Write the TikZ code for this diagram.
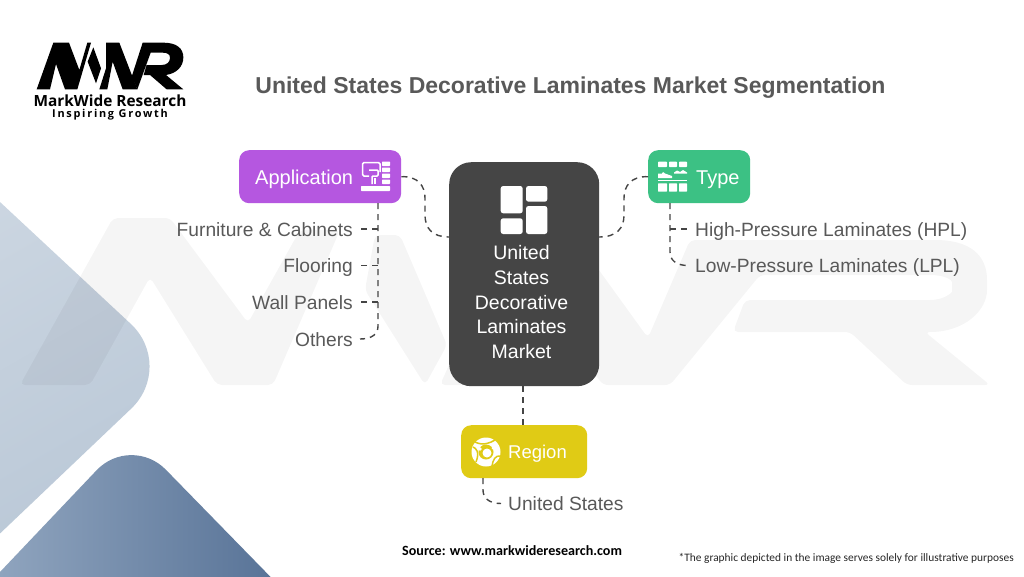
\documentclass[tikz,border=0pt]{standalone}
\usepackage{fontspec}
\setmainfont{Liberation Sans}
\newfontfamily\logofont{Open Sans}
\newfontfamily\notefont{Carlito}
\definecolor{dk}{HTML}{454545}
\definecolor{itemc}{HTML}{595959}
\definecolor{purp}{HTML}{B557E0}
\definecolor{grn}{HTML}{3CC184}
\definecolor{yel}{HTML}{E0CB15}
\definecolor{paleA}{HTML}{D2DBE5}
\definecolor{paleB}{HTML}{B5C4D4}
\definecolor{blueA}{HTML}{8FA4BE}
\definecolor{blueB}{HTML}{587397}
\newcommand{\px}[1]{\fontsize{#1}{#1}\selectfont}
\tikzset{
  catbox/.style={draw=none,rounded corners=10pt,minimum height=53pt,inner sep=0pt,anchor=north west},
  catlabel/.style={text=white,inner sep=0pt,font=\px{20},anchor=base west},
  itemleft/.style={text=itemc,inner sep=0pt,anchor=base east,font=\px{19.2}},
  itemright/.style={text=itemc,inner sep=0pt,anchor=base west,font=\px{19.2}},
  centerline/.style={text=white,inner sep=0pt,anchor=base,font=\px{19.5}},
  conn/.style={draw=dk,line width=1.4pt,dash pattern=on 6pt off 5pt},
  brick/.style={fill=white,rounded corners=0.6pt},
  wmark/.style={fill=black,fill opacity=0.04,rounded corners=5pt},
}
\begin{document}
\begin{tikzpicture}[x=1pt,y=-1pt]
\useasboundingbox (0,0) rectangle (1024,576);
\clip (0,0) rectangle (1024,576);
\fill[white] (0,0) rectangle (1024,576);
% background shapes
\shade[rounded corners=62pt,top color=paleA,bottom color=paleB,shading angle=30]
  (-175,39) -- (176,366) -- (-175,700) -- cycle;
\begin{scope}
\clip[rounded corners=50pt] (-150,730) -- (131,434) -- (420,730) -- cycle;
\shade[left color=blueA,right color=blueB] (0,440) rectangle (275,576);
\end{scope}
% watermark
\fill[wmark] (20,385) -- (113,218) -- (170,218) -- (248,323) -- (300,230) -- (340,230) -- (273,385) -- (217,385) -- (150,277) -- (90,385) -- cycle;
\fill[wmark] (375,235) -- (400,235) -- (447,345) -- (425,385) -- (365,290) -- cycle;
\fill[wmark] (440,385) -- (510,230) -- (570,230) -- (648,338) -- (690,240) -- (930,240) .. controls (970,240) and (987,255) .. (987,285) .. controls (987,310) and (965,332) .. (925,332) -- (990,385) -- (907,385) -- (850,332) -- (733,332) -- (745,300) -- (925,300) .. controls (945,300) and (952,292) .. (952,287) .. controls (952,280) and (945,275) .. (925,275) -- (760,275) -- (670,385) -- (603,385) -- (540,300) -- (505,385) -- cycle;
% logo
\begin{scope}[shift={(0,20)},x=0.33333pt,y=-0.33333pt,fill=black]
  \fill (110,208) -- (160,68) -- (207,68) -- (238,150) -- (262,68) -- (273,68) -- (232,208) -- (195,208) -- (168,132) -- (150,208) -- cycle;
  \fill (280,82) -- (303,145) -- (288,190) -- (263,125) -- cycle;
  \fill (298,208) -- (318,145) -- (318,68) -- (358,68) -- (412,208) -- (368,208) -- (338,125) -- (322,208) -- cycle;
  \fill (395,170) -- (428,68) -- (490,68) .. controls (530,68) and (550,85) .. (550,112) .. controls (550,140) and (530,160) .. (498,165) -- (550,208) -- (500,208) -- (450,165) -- (431,165) -- (440,135) -- (485,135) .. controls (502,135) and (510,125) .. (510,113) .. controls (510,103) and (502,98) .. (488,98) -- (452,98) -- (412,208) -- cycle;
\end{scope}
\node[inner sep=0pt,text=black] (brand) at (110,101) {\logofont\bfseries\px{15.4}MarkWide Research};
\node[inner sep=0pt,text=black] (tagline) at (110,114.5) {\logofont\bfseries\addfontfeature{LetterSpace=16}\px{10.9}Inspiring Growth};
% title
\node[inner sep=0pt,text=itemc,anchor=base] (title) at (570.5,93.5) {\bfseries\px{23}United States Decorative Laminates Market Segmentation};
% boxes
\node[catbox,fill=purp,minimum width=162pt] (appbox) at (239,150) {};
\node[catbox,fill=grn,minimum width=102pt] (typebox) at (648,150) {};
\node[catbox,fill=yel,minimum width=126pt] (regbox) at (461,425) {};
\node[draw=none,fill=dk,rounded corners=22pt,minimum width=150pt,minimum height=224pt,inner sep=0pt,anchor=north west] (hub) at (449,162) {};
% hub text
\node[centerline] (h1) at (521.5,259.5) {United};
\node[centerline] (h2) at (521.5,284) {States};
\node[centerline] (h3) at (521.5,309) {Decorative};
\node[centerline] (h4) at (521.5,333.3) {Laminates};
\node[centerline] (h5) at (521.5,358) {Market};
% hub icon
\fill[brick,rounded corners=2.5pt] (500.7,186) rectangle (522.7,213.3);
\fill[brick,rounded corners=2.5pt] (526,186) rectangle (547.3,201.7);
\fill[brick,rounded corners=2.5pt] (500.7,218.3) rectangle (522.7,234);
\fill[brick,rounded corners=2.5pt] (526,206) rectangle (547.3,234);
% labels
\node[catlabel] (applabel) at (255,184) {Application};
\node[catlabel] (typelabel) at (696,184) {Type};
\node[catlabel,font=\px{18.5}] (reglabel) at (508,458) {Region};
% application icon
\draw[white,line width=1.5pt,rounded corners=1.5pt] (380,172) -- (380,162.5) -- (362.5,162.5) -- (362.5,176) -- (369,176);
\draw[white,line width=1.5pt,rounded corners=1pt] (369,170) -- (378,170) -- (378,176) -- (372,176) -- (372,184);
\draw[white,line width=2.8pt] (375,178) -- (375,183.5);
\fill[brick] (382,161.5) rectangle (390,166);
\fill[brick] (382,167.5) rectangle (390,172);
\fill[brick] (382,173.5) rectangle (390,178);
\fill[brick] (382,179.5) rectangle (390,184);
\fill[brick] (361,186) rectangle (390,191);
% type icon
\foreach \a/\b in {658/667,669/677,679/687}{\fill[brick] (\a,161.7) rectangle (\b,167);\fill[brick] (\a,183.3) rectangle (\b,191.7);}
\fill[white] (658,178) -- (658,173.5) -- (662,173.5) -- (663,172) -- (665,173.5) -- (672,176) -- (672,178) -- cycle;
\fill[white] (674,172.5) -- (677,170.5) -- (680,172) -- (683,170) -- (687,172.5) -- (687,173.5) -- (674,173.5) -- cycle;
\fill[white] (658,179.5) rectangle (687,181.3);
% region icon
\fill[white] (486,452) circle (14.5pt);
\draw[yel,line width=1.5pt] (475,442) .. controls (483,446) and (490,443) .. (495,440);
\draw[yel,line width=1.5pt] (476,462) .. controls (480,452) and (476,448) .. (473,447);
\draw[yel,line width=1.5pt] (501,456) .. controls (495,455) and (493,460) .. (492,466);
\fill[yel] (486,452) circle (7.5pt);
\fill[white] (487,453) circle (4.5pt);
\fill[white] (480,449) circle (1.8pt);
\fill[white] (493,448) circle (1.5pt);
% items
\node[itemleft] (i1) at (353,236) {Furniture \& Cabinets};
\node[itemleft] (i2) at (353,272.5) {Flooring};
\node[itemleft] (i3) at (353,309) {Wall Panels};
\node[itemleft] (i4) at (353,346) {Others};
\node[itemright] (t1) at (695,236) {High-Pressure Laminates (HPL)};
\node[itemright] (t2) at (695,272.5) {Low-Pressure Laminates (LPL)};
\node[itemright] (r1) at (508,510.5) {United States};
% notes
\node[inner sep=0pt,text=black,anchor=west] (source) at (402,551) {\notefont\bfseries\px{14.1}Source: www.markwideresearch.com};
\node[inner sep=0pt,text=black!85,anchor=east] (note) at (1014,558) {\notefont\px{11.4}*The graphic depicted in the image serves solely for illustrative purposes};
% connectors
\coordinate (appout) at (appbox.east);
\coordinate (hubl) at (449,237);
\coordinate (hubr) at (599,237);
\coordinate (typeout) at (typebox.west);
\draw[conn] (appout) .. controls (418,176) and (425,186) .. (425,198) -- (425,215) .. controls (425,228) and (432,237) .. (hubl);
\draw[conn] (typeout) .. controls (631,176) and (624,186) .. (624,198) -- (624,215) .. controls (624,228) and (617,237) .. (hubr);
\coordinate (hubb) at (523,386);
\coordinate (regt) at (523,425);
\draw[conn] (hubb) -- (regt);
\coordinate (appdrop) at (378,203);
\coordinate (b1) at (378,229);
\coordinate (b2) at (378,265.5);
\coordinate (b3) at (378,302);
\coordinate (b4) at (378,326);
\coordinate (e1) at (360,229);
\coordinate (e2) at (360,265.5);
\coordinate (e3) at (360,302);
\coordinate (e4) at (360,339);
\draw[conn] (appdrop) -- (b4) .. controls (378,334) and (372,339) .. (e4);
\draw[conn] (b1) -- (e1);
\draw[conn] (b2) -- (e2);
\draw[conn] (b3) -- (e3);
\coordinate (typedrop) at (670,203);
\coordinate (tb1) at (670,229);
\coordinate (tb2) at (670,252);
\coordinate (te1) at (688,229);
\coordinate (te2) at (688,265.5);
\draw[conn] (typedrop) -- (tb2) .. controls (670,260) and (676,265.5) .. (te2);
\draw[conn] (tb1) -- (te1);
\coordinate (regdrop) at (483,478);
\coordinate (rb) at (483,490);
\coordinate (re) at (501,503.5);
\draw[conn] (regdrop) -- (rb) .. controls (483,498) and (489,503.5) .. (re);
\end{tikzpicture}
\end{document}
